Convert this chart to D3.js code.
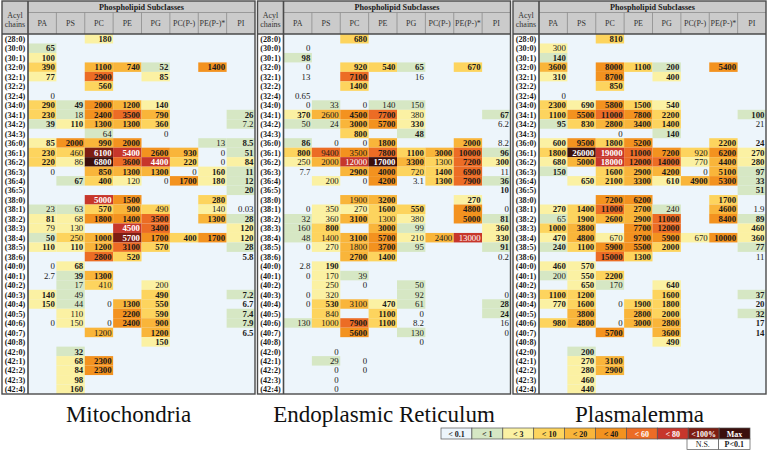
<!DOCTYPE html>
<html><head><meta charset="utf-8">
<script src="https://cdn.jsdelivr.net/npm/d3@7/dist/d3.min.js"></script>
<style>body{margin:0;background:#fff}svg{display:block}</style>
</head><body><svg id="c" width="769" height="464" font-family="'Liberation Serif', 'Times New Roman', 'DejaVu Serif', serif"></svg>
<script>
const _ = null;
const acylChains = ["(28:0)","(30:0)","(30:1)","(32:0)","(32:1)","(32:2)","(32:4)","(34:0)","(34:1)","(34:2)","(34:3)",
"(36:0)","(36:1)","(36:2)","(36:3)","(36:4)","(36:5)","(38:0)","(38:1)","(38:2)","(38:3)","(38:4)","(38:5)","(38:6)",
"(40:0)","(40:1)","(40:2)","(40:3)","(40:4)","(40:5)","(40:6)","(40:7)","(40:8)","(42:0)","(42:1)","(42:2)","(42:3)","(42:4)"];
const subclasses = ["PA","PS","PC","PE","PG","PC(P-)","PE(P-)*","PI"];
const panelTitles = ["Mitochondria","Endoplasmic Reticulum","Plasmalemma"];
const legendLabels = ["< 0.1","< 1","< 3","< 10","< 20","< 40","< 60","< 80","<100%","Max"];
const legendThresholds = [0.1,1,3,10,20,40,60,80,100];
const sigLabels = ["N.S.","P<0.1"];

const mitoValues = [
[_,_,180,_,_,_,_,_],[65,_,_,_,_,_,_,_],[100,_,_,_,_,_,_,_],[390,_,1100,740,52,_,1400,_],[77,_,2900,_,85,_,_,_],
[_,_,560,_,_,_,_,_],[0,_,_,_,_,_,_,_],[290,49,2000,1200,140,_,_,_],[230,18,2400,3500,790,_,_,26],[39,110,1300,1300,360,_,_,7.2],
[_,_,64,_,0,_,_,_],[85,2000,990,2000,_,_,13,8.5],[230,460,6100,5400,2600,930,0,51],[220,86,6800,3600,4400,220,0,84],
[0,_,850,1300,1300,0,160,11],[_,67,400,120,0,1700,180,12],[_,_,_,_,_,_,_,20],[_,_,5000,1500,_,_,280,_],
[23,63,570,900,490,_,140,0.03],[81,68,1800,1400,3500,_,1300,28],[79,130,_,4500,3400,_,_,120],[50,250,1000,5700,1700,400,1700,120],
[110,110,1200,3100,570,_,_,28],[_,_,2800,520,_,_,_,5.8],[0,68,_,_,_,_,_,_],[2.7,39,1300,_,_,_,_,_],[_,17,410,_,200,_,_,_],
[140,49,_,_,490,_,_,7.2],[150,44,0,1300,550,_,_,6.7],[_,110,_,2200,590,_,_,7.4],[0,150,0,2400,900,_,_,7.9],[_,_,1200,_,1200,_,_,6.5],
[_,_,_,_,150,_,_,_],[_,32,_,_,_,_,_,_],[_,68,2300,_,_,_,_,_],[_,84,2300,_,_,_,_,_],[_,98,_,_,_,_,_,_],[_,160,_,_,_,_,_,_]];
const mitoSig = ["00100000","10000000","10000000","10111010","10101000","00100000","00000000","11111000","10111001","11111000",
"00000000","11110001","10111101","10111101","00111011","01100111","00000001","00110010","00110000","10111011","00011001","10111111",
"11111001","00110001","01000000","01100000","00000000","10001001","10011001","00011001","00011001","00001001","00001000","01000000",
"01100000","01100000","01000000","01000000"];

const erValues = [
[_,_,680,_,_,_,_,_],[0,_,_,_,_,_,_,_],[98,_,_,_,_,_,_,_],[0,_,920,540,65,_,670,_],[13,_,7100,_,16,_,_,_],
[_,_,1400,_,_,_,_,_],[0.65,_,_,_,_,_,_,_],[0,33,0,140,150,_,_,_],[370,2600,4500,7700,380,_,_,67],[50,24,3000,5700,330,_,_,6.2],
[_,_,800,_,48,_,_,_],[86,0,0,1800,_,_,2000,8.2],[800,9400,3500,7800,1100,3000,10000,96],[250,2000,12000,17000,3300,1300,7200,300],
[7.7,_,2900,4000,720,1400,6900,11],[_,200,0,4200,3.1,1300,7900,36],[_,_,_,_,_,_,_,10],[_,_,1900,3200,_,_,270,_],
[0,350,270,1600,550,_,4800,0],[32,360,3100,1300,380,_,5000,81],[160,800,_,3000,99,_,_,360],[48,1400,3100,5700,210,2400,13000,330],
[0,270,1800,3700,95,_,_,91],[_,_,2700,1400,_,_,_,0.2],[2.8,190,_,_,_,_,_,_],[0,170,39,_,_,_,_,_],[_,250,0,_,50,_,_,_],
[0,320,_,_,92,_,_,0],[0,530,3100,470,61,_,_,28],[_,840,_,1100,0,_,_,24],[130,1000,7900,1100,8.2,_,_,16],[_,_,5600,_,130,_,_,0],
[_,_,_,_,0,_,_,_],[_,0,_,_,_,_,_,_],[_,29,0,_,_,_,_,_],[_,0,0,_,_,_,_,_],[_,0,_,_,_,_,_,_],[_,0,_,_,_,_,_,_]];
const erSig = ["00100000","00000000","10000000","00111010","00100000","00100000","00000000","00000000","10110001","00111000",
"00101000","10010010","10011111","00011011","00110110","00010111","00000001","00010010","00011010","00100011","01010001","00110001",
"00010001","00110000","01000000","00000000","00000000","00000000","01010001","00010001","00110000","00100000","00000000","00000000",
"00000000","00000000","00000000","00000000"];

const plasmValues = [
[_,_,810,_,_,_,_,_],[300,_,_,_,_,_,_,_],[140,_,_,_,_,_,_,_],[3600,_,8000,1100,200,_,5400,_],[310,_,8700,_,400,_,_,_],
[_,_,850,_,_,_,_,_],[0,_,_,_,_,_,_,_],[2300,690,5800,1500,540,_,_,_],[1100,5500,11000,7800,2200,_,_,100],[95,830,2800,3400,1400,_,_,21],
[_,_,0,_,140,_,_,_],[600,9500,1800,5200,_,_,2200,24],[1800,26000,19000,11000,7200,920,6200,270],[680,5000,18000,12000,14000,770,4400,280],
[150,_,1600,2900,4200,0,5100,97],[_,650,2100,3300,610,4900,5300,33],[_,_,_,_,_,_,_,51],[_,_,7200,6200,_,_,1700,_],
[270,1400,11000,2700,240,_,4600,1.9],[65,1900,2600,2900,11000,_,8400,89],[1000,3800,_,7700,12000,_,_,460],[470,4800,670,9700,5900,670,10000,360],
[240,1100,5900,5500,2000,_,_,77],[_,_,15000,1300,_,_,_,11],[460,570,_,_,_,_,_,_],[200,550,2200,_,_,_,_,_],[_,650,170,_,640,_,_,_],
[1100,1200,_,_,1600,_,_,37],[770,1600,0,1900,1800,_,_,20],[_,3800,_,2800,2000,_,_,32],[980,4800,0,3000,2800,_,_,17],[_,_,5700,_,3600,_,_,14],
[_,_,_,_,490,_,_,_],[_,200,_,_,_,_,_,_],[_,270,3100,_,_,_,_,_],[_,280,2900,_,_,_,_,_],[_,460,_,_,_,_,_,_],[_,440,_,_,_,_,_,_]];
const plasmSig = ["00100000","00000000","10000000","10111010","10101000","00100000","00000000","11111000","11111001","11111000",
"00001000","11110011","11111011","11111011","10111011","01111111","00000001","00110010","11110010","01111011","11011001","11011011",
"11111001","00110000","11000000","01100000","01001000","11001001","11011001","01011001","11011001","00101001","00001000","01000000",
"01100000","01100000","01000000","01000000"];

const panels = [
  {title: panelTitles[0], values: mitoValues, sig: mitoSig},
  {title: panelTitles[1], values: erValues, sig: erSig},
  {title: panelTitles[2], values: plasmValues, sig: plasmSig}
];

const palette = ["#edf5fb","#d6e7c4","#fbf1a3","#fdd45e","#f9b53a","#f3921f","#ec6c25","#c7362b","#7d1d12","#3b0f0c"];
const colorScale = d3.scaleThreshold().domain(legendThresholds).range(palette);
const whiteText = new Set(["#c7362b","#7d1d12","#3b0f0c"]);

const svg = d3.select("#c");
const panelX = [2, 257.5, 513];
const panelW = 253, acylW = 26, topY = 1, hdrMid = 12.5, bodyTop = 34, bodyBottom = 394;
const y = d3.scaleBand().domain(acylChains).range([bodyTop, bodyBottom]);

panels.forEach((p, pi) => {
  const x0 = panelX[pi];
  const g = svg.append("g");
  const x = d3.scaleBand().domain(subclasses).range([x0 + acylW, x0 + panelW]);
  const maxV = d3.max(p.values.flat().filter(v => v !== null));
  g.append("rect").attr("x", x0).attr("y", topY).attr("width", panelW).attr("height", bodyTop - topY).attr("fill", "#cbcbcb");
  g.append("rect").attr("x", x0).attr("y", bodyTop).attr("width", acylW).attr("height", bodyBottom - bodyTop).attr("fill", "#ffffff");
  g.append("rect").attr("x", x0 + acylW).attr("y", bodyTop).attr("width", panelW - acylW).attr("height", bodyBottom - bodyTop).attr("fill", palette[0]);
  p.values.forEach((row, ri) => {
    row.forEach((v, ci) => {
      if (v === null) return;
      const pct = v / maxV * 100;
      const col = colorScale(pct);
      const cx = x(subclasses[ci]), cy = y(acylChains[ri]);
      if (col !== palette[0]) {
        g.append("rect").attr("x", cx).attr("y", cy).attr("width", x.bandwidth()).attr("height", y.bandwidth()).attr("fill", col);
      }
      g.append("text").attr("x", cx + x.bandwidth() - 1.5).attr("y", cy + y.bandwidth() - 1.6)
        .attr("text-anchor", "end").attr("font-size", 8.8)
        .attr("font-weight", p.sig[ri][ci] === "1" ? "bold" : "normal")
        .attr("fill", whiteText.has(col) ? "#ffffff" : "#1a1a1a").text(String(v));
    });
  });
  acylChains.forEach(a => {
    g.append("text").attr("x", x0 + acylW / 2).attr("y", y(a) + y.bandwidth() - 1.6).attr("text-anchor", "middle")
      .attr("font-size", 8.2).attr("font-weight", "bold").attr("fill", "#1a1a1a").text(a);
  });
  g.append("text").attr("x", x0 + acylW + (panelW - acylW) / 2).attr("y", 10).attr("text-anchor", "middle")
    .attr("font-size", 8.2).attr("font-weight", "bold").attr("fill", "#1a1a1a").text("Phospholipid Subclasses");
  subclasses.forEach(s => {
    g.append("text").attr("x", x(s) + x.bandwidth() / 2).attr("y", 26).attr("text-anchor", "middle")
      .attr("font-size", 8).attr("fill", "#333").text(s);
  });
  g.append("text").attr("x", x0 + acylW / 2).attr("y", 17.5).attr("text-anchor", "middle").attr("font-size", 8).attr("fill", "#333").text("Acyl");
  g.append("text").attr("x", x0 + acylW / 2).attr("y", 27).attr("text-anchor", "middle").attr("font-size", 8).attr("fill", "#333").text("chains");
  g.append("line").attr("x1", x0 + acylW).attr("x2", x0 + panelW).attr("y1", hdrMid).attr("y2", hdrMid).attr("stroke", "#8c8c8c").attr("stroke-width", 0.8);
  subclasses.slice(1).forEach(s => {
    g.append("line").attr("x1", x(s)).attr("x2", x(s)).attr("y1", hdrMid).attr("y2", bodyTop).attr("stroke", "#8c8c8c").attr("stroke-width", 0.8);
  });
  g.append("line").attr("x1", x0).attr("x2", x0 + panelW).attr("y1", bodyTop).attr("y2", bodyTop).attr("stroke", "#4a4a4a").attr("stroke-width", 1.6);
  g.append("line").attr("x1", x0 + acylW).attr("x2", x0 + acylW).attr("y1", topY).attr("y2", bodyBottom).attr("stroke", "#4a4a4a").attr("stroke-width", 1.6);
  g.append("rect").attr("x", x0).attr("y", topY).attr("width", panelW).attr("height", bodyBottom - topY)
    .attr("fill", "none").attr("stroke", "#4a4a4a").attr("stroke-width", 1.4);
  svg.append("text").attr("x", x0 + panelW / 2).attr("y", 422).attr("text-anchor", "middle")
    .attr("font-size", 23).attr("fill", "#111").text(p.title);
});

const lg = svg.append("g");
const lx = d3.scaleBand().domain(legendLabels).range([441, 750]);
legendLabels.forEach((l, i) => {
  lg.append("rect").attr("x", lx(l)).attr("y", 428).attr("width", lx.bandwidth()).attr("height", 11)
    .attr("fill", palette[i]).attr("stroke", "#555").attr("stroke-width", 0.7);
  lg.append("text").attr("x", lx(l) + lx.bandwidth() / 2).attr("y", 436.6).attr("text-anchor", "middle")
    .attr("font-size", 8).attr("font-weight", "bold").attr("fill", i >= 6 ? "#fff" : "#1a1a1a").text(l);
});
const sx = d3.scaleBand().domain(sigLabels).range([687, 750]);
sigLabels.forEach((s, i) => {
  lg.append("rect").attr("x", sx(s)).attr("y", 439).attr("width", sx.bandwidth()).attr("height", 10.5)
    .attr("fill", "#fff").attr("stroke", "#555").attr("stroke-width", 0.7);
  lg.append("text").attr("x", sx(s) + sx.bandwidth() / 2).attr("y", 447.4).attr("text-anchor", "middle")
    .attr("font-size", 8).attr("font-weight", i === 1 ? "bold" : "normal").attr("fill", "#1a1a1a").text(s);
});
</script></body></html>
